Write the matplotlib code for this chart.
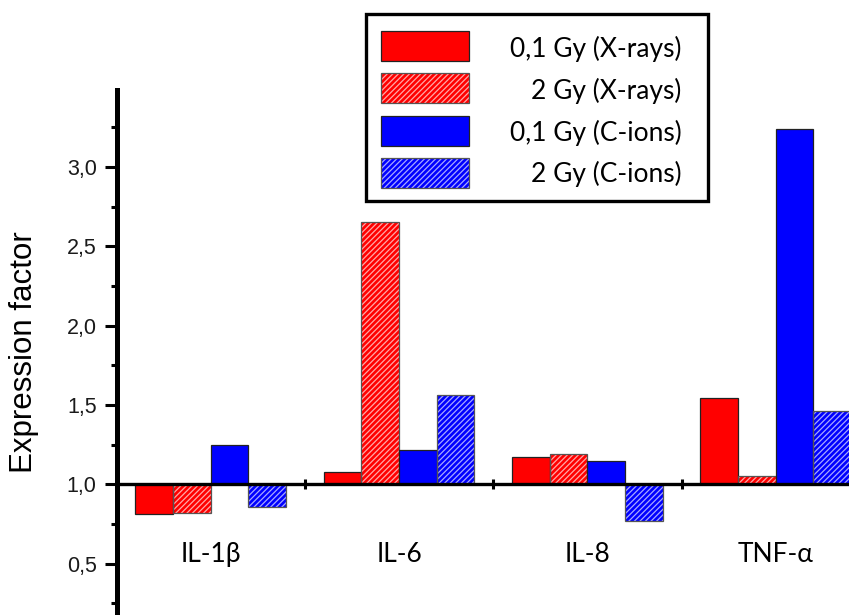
import matplotlib
matplotlib.use('Agg')
import matplotlib.pyplot as plt
import numpy as np
from matplotlib.patches import Rectangle
from matplotlib.ticker import MultipleLocator

# Cytokine expression factors (1.0 = control)
genes = ['IL-1β', 'IL-6', 'IL-8', 'TNF-α']
xray_low = [0.81, 1.08, 1.17, 1.545]
xray_high = [0.82, 2.65, 1.19, 1.05]
cion_low = [1.25, 1.215, 1.145, 3.24]
cion_high = [0.855, 1.565, 0.77, 1.46]

series_labels = ['0,1 Gy (X-rays)', '2 Gy (X-rays)', '0,1 Gy (C-ions)', '2 Gy (C-ions)']
series_colors = ['#ff0000', '#ff0000', '#0000ff', '#0000ff']
hatch_colors = [None, '#ffa8a8', None, '#a8a8ff']
series_hatch = [None, '//////', None, '//////']

LABEL_FONT = ['Lato', 'DejaVu Sans']
W, H = 849, 615

plt.rcParams['font.family'] = ['Liberation Sans', 'DejaVu Sans']
plt.rcParams['ytick.labelsize'] = 15.5
plt.rcParams['hatch.linewidth'] = 0.9

fig = plt.figure(figsize=(W / 100, H / 100), dpi=100)
ax = fig.add_axes([116.5 / W, 0.0, 1 - 116.5 / W, 1 - 90 / H])

x = np.arange(len(genes))
width = 0.2
offsets = [-0.3, -0.1, 0.1, 0.3]
series = [xray_low, xray_high, cion_low, cion_high]

for vals, off, col, hcol, hat in zip(series, offsets, series_colors, hatch_colors, series_hatch):
    heights = np.array(vals) - 1.0
    if hat:
        ax.bar(x + off, heights, width, bottom=1.0, color=col,
               edgecolor=hcol, hatch=hat, linewidth=0, zorder=2)
        ax.bar(x + off, heights, width, bottom=1.0, fill=False,
               edgecolor='#555555', linewidth=0.9, zorder=3)
    else:
        ax.bar(x + off, heights, width, bottom=1.0, color=col,
               edgecolor='#222222', linewidth=0.9, zorder=3)

ax.set_xlim(-0.5, 3.389)
ax.set_ylim(0.176, 3.485)

# axis line through 1.0 with group separator ticks
ax.spines['top'].set_visible(False)
ax.spines['right'].set_visible(False)
ax.spines['bottom'].set_position(('data', 1.0))
ax.spines['bottom'].set_linewidth(2.4)
ax.spines['bottom'].set_zorder(4)
ax.spines['left'].set_linewidth(3.6)
ax.set_xticks([0.5, 1.5, 2.5])
ax.set_xticklabels([])
ax.tick_params(axis='x', direction='inout', length=7.7, width=2.2)

ax.yaxis.set_major_locator(MultipleLocator(0.5))
ax.yaxis.set_minor_locator(MultipleLocator(0.25))
ax.yaxis.set_major_formatter(lambda v, pos: f'{v:.1f}'.replace('.', ','))
ax.tick_params(axis='y', which='major', direction='out', length=8.8, width=2.2,
               pad=5.5, labelcolor='#1a1a1a')
ax.tick_params(axis='y', which='minor', direction='out', length=4.2, width=2.2)

ax.set_ylabel('Expression factor', fontsize=22.5)
ax.yaxis.set_label_coords((39.5 - 116.5) / (W - 116.5), 0.5)

for i, g in enumerate(genes):
    ax.text(x[i], 0.512, g, ha='center', va='baseline', fontsize=19,
            family=LABEL_FONT)

# legend box drawn in figure pixels, labels right aligned
def fx(px):
    return px / W


def fy(py):
    return 1 - py / H


fig.add_artist(Rectangle((fx(366), fy(201)), fx(708) - fx(366), fy(14) - fy(201),
                         transform=fig.transFigure, facecolor='white',
                         edgecolor='black', linewidth=2.4, zorder=5))
row_tops = [30.7, 73.3, 115.7, 157.7]
baselines = [56.7, 99.3, 140.5, 181.7]
for top, base, lab, col, hcol, hat in zip(row_tops, baselines, series_labels,
                                          series_colors, hatch_colors, series_hatch):
    rect = Rectangle((fx(380.7), fy(top + 30)), fx(469.3) - fx(380.7), fy(top) - fy(top + 30),
                     transform=fig.transFigure, facecolor=col,
                     edgecolor=hcol if hat else '#222222', hatch=hat,
                     linewidth=0 if hat else 0.9, zorder=6)
    fig.add_artist(rect)
    if hat:
        fig.add_artist(Rectangle((fx(380.7), fy(top + 30)), fx(469.3) - fx(380.7),
                                 fy(top) - fy(top + 30), transform=fig.transFigure,
                                 fill=False, edgecolor='#555555', linewidth=0.9, zorder=7))
    fig.text(fx(681.5), fy(base), lab, ha='right', va='baseline', fontsize=19,
             family=LABEL_FONT, zorder=7)

fig.savefig('out.png', dpi=100)
